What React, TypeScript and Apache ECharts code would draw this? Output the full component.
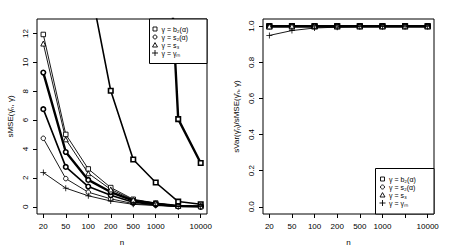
import React, { useEffect, useRef } from 'react';
import * as echarts from 'echarts';

// ---- data ----
const nValues = [20, 50, 100, 200, 500, 1000, 5000, 10000];
const tickLabels = ['20', '50', '100', '200', '500', '1000', '', '10000'];
const positions = nValues.map((_, i) => i + 1);

// left panel: sMSE
const sMSE_b2_a1 = [11.93, 5.01, 2.62, 1.33, 0.52, 0.26, 0.06, 0.03];
const sMSE_b2_a2 = [80, 32, 16, 8.03, 3.27, 1.68, 0.36, 0.17];
const sMSE_b2_a3 = [1800, 720, 360, 180, 72, 36, 6.07, 3.03];
const sMSE_s2_a1 = [4.74, 1.95, 1.01, 0.55, 0.22, 0.11, 0.025, 0.012];
const sMSE_s2_a2 = [6.76, 2.76, 1.4, 0.8, 0.31, 0.15, 0.035, 0.018];
const sMSE_s2_a3 = [9.29, 3.79, 1.86, 1.02, 0.42, 0.21, 0.05, 0.025];
const sMSE_s3 = [11.3, 4.67, 2.32, 1.2, 0.48, 0.24, 0.055, 0.028];
const sMSE_gM = [2.37, 1.29, 0.76, 0.4, 0.17, 0.085, 0.02, 0.01];

// right panel: sVar / sMSE
const ratio_b2_a1 = [1.0, 1.0, 1.0, 1.0, 1.0, 1.0, 1.0, 1.0];
const ratio_b2_a2 = [1.0, 1.0, 1.0, 1.0, 1.0, 1.0, 1.0, 1.0];
const ratio_b2_a3 = [1.0, 1.0, 1.0, 1.0, 1.0, 1.0, 1.0, 1.0];
const ratio_s2_a1 = [1.0, 1.0, 1.0, 1.0, 1.0, 1.0, 1.0, 1.0];
const ratio_s2_a2 = [1.0, 1.0, 1.0, 1.0, 1.0, 1.0, 1.0, 1.0];
const ratio_s2_a3 = [1.0, 1.0, 1.0, 1.0, 1.0, 1.0, 1.0, 1.0];
const ratio_s3 = [0.999, 1.0, 1.0, 1.0, 1.0, 1.0, 1.0, 1.0];
const ratio_gM = [0.949, 0.976, 0.99, 0.995, 0.998, 0.999, 1.0, 1.0];

const leftYTicks = [0, 2, 4, 6, 8, 10, 12];
const rightYTicks = [0, 0.2, 0.4, 0.6, 0.8, 1.0];
const legendLabels = ['γ = b₂(α)', 'γ = s₂(α)', 'γ = s₃', 'γ = γₘ'];

const FONT = 'Liberation Sans, Arial, Helvetica, sans-serif';
const PLUS = 'path://M-1,-0.13H1V0.13H-1Z M-0.13,-1H0.13V1H-0.13Z';

function mkSeries(name: string, vals: number[], grid: number, symbol: string, width: number, z: number) {
  const isPlus = symbol === 'plus';
  return {
    type: 'line',
    name,
    xAxisIndex: grid,
    yAxisIndex: grid,
    data: vals.map((v, i) => [positions[i], v]),
    symbol: isPlus ? PLUS : symbol,
    symbolSize: isPlus ? 6 : symbol === 'triangle' ? 5 : 4.5,
    showAllSymbol: true,
    clip: true,
    z,
    lineStyle: { color: '#000', width },
    itemStyle: isPlus
      ? { color: '#000', borderWidth: 0 }
      : { color: '#fff', borderColor: '#000', borderWidth: Math.min(width, 1.6) },
    emphasis: { disabled: true },
  };
}

function xAxisCfg(grid: number) {
  return {
    type: 'value',
    gridIndex: grid,
    min: 0.72,
    max: 8.28,
    axisLine: { show: false, onZero: false },
    axisTick: { show: true, inside: false, length: 4, customValues: positions, lineStyle: { color: '#000', width: 1 } },
    axisLabel: {
      customValues: positions,
      formatter: (v: number) => tickLabels[Math.round(v) - 1] ?? '',
      fontSize: 8,
      color: '#000',
      margin: 8,
      fontFamily: FONT,
    },
    splitLine: { show: false },
    name: 'n',
    nameLocation: 'middle',
    nameGap: 24,
    nameTextStyle: { fontSize: 8, color: '#000', fontFamily: FONT },
  };
}

function yAxisCfg(grid: number, min: number, max: number, ticks: number[], fmt: (v: number) => string, name: string) {
  return {
    type: 'value',
    gridIndex: grid,
    min,
    max,
    axisLine: { show: false, onZero: false },
    axisTick: { show: true, inside: false, length: 4, customValues: ticks, lineStyle: { color: '#000', width: 1 } },
    axisLabel: {
      customValues: ticks,
      formatter: fmt,
      rotate: 90,
      fontSize: 8,
      color: '#000',
      margin: 8,
      fontFamily: FONT,
    },
    splitLine: { show: false },
    name,
    nameLocation: 'middle',
    nameGap: 23,
    nameTextStyle: { fontSize: 8, color: '#000', fontFamily: FONT },
  };
}

function legendGraphic(x: number, y: number, w: number, h: number, rowStart: number, rowGap: number, symX: number, textX: number) {
  const children: any[] = [
    { type: 'rect', shape: { x, y, width: w, height: h }, style: { fill: '#fff', stroke: '#000', lineWidth: 1 }, z: 100 },
  ];
  legendLabels.forEach((lab, i) => {
    const cy = rowStart + i * rowGap;
    if (i === 0) {
      children.push({ type: 'rect', shape: { x: symX - 2, y: cy - 2, width: 4, height: 4 }, style: { fill: 'none', stroke: '#000', lineWidth: 0.9 }, z: 101 });
    } else if (i === 1) {
      children.push({ type: 'circle', shape: { cx: symX, cy, r: 2 }, style: { fill: 'none', stroke: '#000', lineWidth: 0.9 }, z: 101 });
    } else if (i === 2) {
      children.push({ type: 'polygon', shape: { points: [[symX - 2.5, cy + 2], [symX + 2.5, cy + 2], [symX, cy - 2.4]] }, style: { fill: 'none', stroke: '#000', lineWidth: 0.9 }, z: 101 });
    } else {
      children.push({ type: 'line', shape: { x1: symX - 3, y1: cy, x2: symX + 3, y2: cy }, style: { stroke: '#000', lineWidth: 0.9 }, z: 101 });
      children.push({ type: 'line', shape: { x1: symX, y1: cy - 3, x2: symX, y2: cy + 3 }, style: { stroke: '#000', lineWidth: 0.9 }, z: 101 });
    }
    children.push({
      type: 'text',
      x: textX,
      y: cy,
      style: { text: lab, fontSize: 7, fontFamily: FONT, fill: '#000', verticalAlign: 'middle', align: 'left' },
      z: 101,
    });
  });
  return children;
}

export default function App() {
  const ref = useRef<HTMLDivElement>(null);
  useEffect(() => {
    document.body.style.margin = '0';
    const chart = echarts.init(ref.current!, null, { renderer: 'svg' });
    const option: any = {
      animation: false,
      backgroundColor: '#fff',
      textStyle: { fontFamily: FONT },
      grid: [
        { left: 37, top: 19, width: 170, height: 195, show: true, borderColor: '#000', borderWidth: 1, backgroundColor: 'transparent' },
        { left: 263, top: 19, width: 171, height: 195, show: true, borderColor: '#000', borderWidth: 1, backgroundColor: 'transparent' },
      ],
      xAxis: [xAxisCfg(0), xAxisCfg(1)],
      yAxis: [
        yAxisCfg(0, -0.5, 13, leftYTicks, (v: number) => String(Math.round(v)), 'sMSE(γ̂ₙ, γ)'),
        yAxisCfg(1, -0.04, 1.04, rightYTicks, (v: number) => v.toFixed(1), 'sVar(γ̂ₙ)/sMSE(γ̂ₙ, γ)'),
      ],
      series: [
        mkSeries('b2 α1', sMSE_b2_a1, 0, 'rect', 0.9, 3),
        mkSeries('b2 α2', sMSE_b2_a2, 0, 'rect', 1.6, 3),
        mkSeries('b2 α3', sMSE_b2_a3, 0, 'rect', 2.4, 3),
        mkSeries('s2 α1', sMSE_s2_a1, 0, 'circle', 0.9, 3),
        mkSeries('s2 α2', sMSE_s2_a2, 0, 'circle', 1.6, 3),
        mkSeries('s2 α3', sMSE_s2_a3, 0, 'circle', 2.4, 3),
        mkSeries('s3', sMSE_s3, 0, 'triangle', 0.9, 3),
        mkSeries('γM', sMSE_gM, 0, 'plus', 0.9, 3),
        mkSeries('r b2 α1', ratio_b2_a1, 1, 'rect', 0.9, 3),
        mkSeries('r b2 α2', ratio_b2_a2, 1, 'rect', 1.6, 3),
        mkSeries('r b2 α3', ratio_b2_a3, 1, 'rect', 2.4, 3),
        mkSeries('r s2 α1', ratio_s2_a1, 1, 'circle', 0.9, 3),
        mkSeries('r s2 α2', ratio_s2_a2, 1, 'circle', 1.6, 3),
        mkSeries('r s2 α3', ratio_s2_a3, 1, 'circle', 2.4, 3),
        mkSeries('r s3', ratio_s3, 1, 'triangle', 0.9, 3),
        mkSeries('r γM', ratio_gM, 1, 'plus', 0.9, 3),
      ],
      graphic: [
        ...legendGraphic(149.5, 19, 57.5, 44.5, 29, 8, 155, 161.5),
        ...legendGraphic(375.5, 168.5, 58.5, 45.5, 179, 8, 382.5, 389),
      ],
    };
    chart.setOption(option);
    return () => chart.dispose();
  }, []);
  return <div ref={ref} style={{ width: 453, height: 251 }} />;
}
